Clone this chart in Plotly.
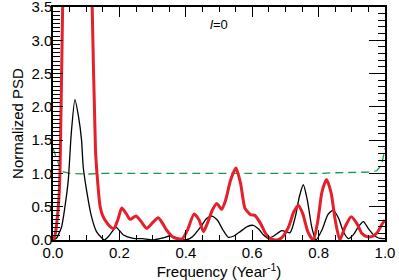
import plotly.graph_objects as go

# Frequency (1/year) and normalized PSD values
red_freq = [0.0, 0.006, 0.016, 0.021, 0.029, 0.04, 0.075, 0.11, 0.118, 0.128, 0.1325, 0.142,
            0.151, 0.162, 0.172, 0.183, 0.195, 0.207, 0.22, 0.232, 0.25, 0.265, 0.282, 0.3,
            0.317, 0.33, 0.342, 0.36, 0.375, 0.39, 0.405, 0.425, 0.44, 0.453, 0.465, 0.48,
            0.493, 0.508, 0.52, 0.535, 0.551, 0.565, 0.578, 0.595, 0.608, 0.625, 0.64, 0.655,
            0.675, 0.69, 0.71, 0.725, 0.739, 0.752, 0.768, 0.784, 0.798, 0.81, 0.824, 0.838,
            0.85, 0.864, 0.88, 0.898, 0.915, 0.93, 0.945, 0.96, 0.975, 0.99, 1.0]
red_psd = [0.0, 0.07, 0.5, 1.0, 3.5, 5.5, 8.0, 5.5, 3.5, 1.35, 1.0, 0.5,
           0.35, 0.26, 0.2, 0.17, 0.3, 0.48, 0.4, 0.31, 0.36, 0.28, 0.175, 0.26,
           0.335, 0.25, 0.15, 0.05, 0.02, 0.02, 0.15, 0.39, 0.3, 0.125, 0.25, 0.45,
           0.55, 0.46, 0.6, 0.9, 1.08, 0.85, 0.48, 0.38, 0.37, 0.25, 0.1, 0.02,
           0.0, 0.04, 0.2, 0.42, 0.52, 0.4, 0.12, 0.0, 0.3, 0.72, 0.91, 0.7,
           0.3, 0.0, 0.2, 0.35, 0.25, 0.1, 0.05, 0.05, 0.1, 0.23, 0.3]

black_freq = [0.0, 0.011, 0.026, 0.036, 0.046, 0.055, 0.066, 0.077, 0.086, 0.091, 0.101, 0.116,
              0.131, 0.147, 0.155, 0.17, 0.19, 0.212, 0.242, 0.27, 0.3, 0.33, 0.352, 0.375,
              0.4, 0.42, 0.445, 0.462, 0.478, 0.495, 0.512, 0.528, 0.545, 0.565, 0.585, 0.603,
              0.62, 0.635, 0.648, 0.665, 0.689, 0.714, 0.73, 0.742, 0.754, 0.766, 0.78, 0.792,
              0.81, 0.828, 0.844, 0.86, 0.875, 0.89, 0.905, 0.92, 0.935, 0.95, 0.965, 0.98,
              0.995, 1.0]
black_psd = [0.0, 0.03, 0.2, 0.5, 0.9, 1.6, 2.11, 1.85, 1.5, 1.1, 0.75, 0.35,
             0.125, 0.03, 0.0, 0.07, 0.19, 0.075, 0.025, 0.02, 0.0, 0.03, 0.06, 0.03,
             0.0, 0.05, 0.2, 0.32, 0.36, 0.3, 0.15, 0.04, 0.06, 0.13, 0.2, 0.22,
             0.16, 0.07, 0.025, 0.06, 0.14, 0.11, 0.35, 0.65, 0.83, 0.6, 0.18, 0.0,
             0.15, 0.38, 0.45, 0.33, 0.12, 0.02, 0.08, 0.2, 0.275, 0.17, 0.08, 0.03,
             0.02, 0.02]

green_freq = [0.0, 0.01, 0.025, 0.05, 0.1, 0.15, 0.2, 0.25, 0.3, 0.35, 0.4, 0.45, 0.5,
              0.55, 0.6, 0.65, 0.7, 0.75, 0.8, 0.85, 0.9, 0.95, 0.975, 0.99, 1.0]
green_psd = [1.38, 1.25, 1.03, 1.0, 0.99, 1.0, 1.0, 0.99, 0.99, 1.0, 0.99, 0.99, 1.0,
             1.0, 0.99, 0.99, 1.0, 1.0, 1.0, 1.01, 1.01, 1.02, 1.04, 1.13, 1.38]

x_ticks = [0.0, 0.2, 0.4, 0.6, 0.8, 1.0]
y_ticks = [0.0, 0.5, 1.0, 1.5, 2.0, 2.5, 3.0, 3.5]

FONT = "Liberation Sans, Arial, Helvetica, sans-serif"

fig = go.Figure()
fig.add_trace(go.Scatter(x=green_freq, y=green_psd, mode="lines",
                         line=dict(color="#159a45", width=1.3, dash="8px,5px"),
                         showlegend=False, hoverinfo="skip"))
fig.add_trace(go.Scatter(x=black_freq, y=black_psd, mode="lines",
                         line=dict(color="black", width=1.3, shape="spline", smoothing=0.6),
                         showlegend=False))
fig.add_trace(go.Scatter(x=red_freq, y=red_psd, mode="lines",
                         line=dict(color="#e3202b", width=3, shape="spline", smoothing=0.6),
                         showlegend=False))
# invisible trace to anchor the right-hand axis
fig.add_trace(go.Scatter(x=[0], y=[0], yaxis="y2", mode="markers",
                         marker=dict(opacity=0), showlegend=False, hoverinfo="skip"))

fig.add_annotation(x=0.5, y=3.23, text="<i>l</i>=0", showarrow=False,
                   font=dict(family=FONT, size=13, color="black"))

fig.update_layout(
    width=399, height=280,
    margin=dict(l=53, r=14, t=7, b=40),
    paper_bgcolor="white", plot_bgcolor="white",
    font=dict(family=FONT, size=15, color="black"),
    xaxis=dict(range=[0, 1], tickvals=x_ticks, ticktext=[f"{v:.1f}" for v in x_ticks],
               ticks="inside", ticklen=10, tickwidth=1.3, tickcolor="black",
               minor=dict(dtick=0.05, ticks="inside", ticklen=5, tickwidth=1.2, tickcolor="black"),
               showline=True, linecolor="black", linewidth=1.5, mirror="ticks",
               showgrid=False, zeroline=False, automargin=False,
               tickfont=dict(size=15), ticklabelstandoff=-2, ticklabeloverflow="allow",
               title=dict(text="Frequency (Year<sup>-1</sup>)", standoff=2, font=dict(size=15))),
    yaxis=dict(range=[0, 3.5], tickvals=y_ticks, ticktext=[f"{v:.1f}" for v in y_ticks],
               ticks="inside", ticklen=10, tickwidth=1.3, tickcolor="black",
               minor=dict(dtick=0.0625, tick0=0, ticks="inside", ticklen=7, tickwidth=1.2,
                          tickcolor="black"),
               showline=True, linecolor="black", linewidth=1.5,
               showgrid=False, zeroline=False, automargin=False,
               tickfont=dict(size=15), ticklabelstandoff=-4, ticklabeloverflow="allow",
               title=dict(text="Normalized PSD", standoff=4, font=dict(size=15))),
    yaxis2=dict(range=[0, 3.5], overlaying="y", side="right", tickvals=y_ticks,
                showticklabels=False, automargin=False,
                ticks="inside", ticklen=16, tickwidth=1.3, tickcolor="black",
                minor=dict(dtick=0.1, tick0=0, ticks="inside", ticklen=7, tickwidth=1.2,
                           tickcolor="black"),
                showline=True, linecolor="black", linewidth=1.5,
                showgrid=False, zeroline=False),
)

fig.write_html("out.html", config={"displayModeBar": False},
               post_script="document.body.style.margin='0';")
